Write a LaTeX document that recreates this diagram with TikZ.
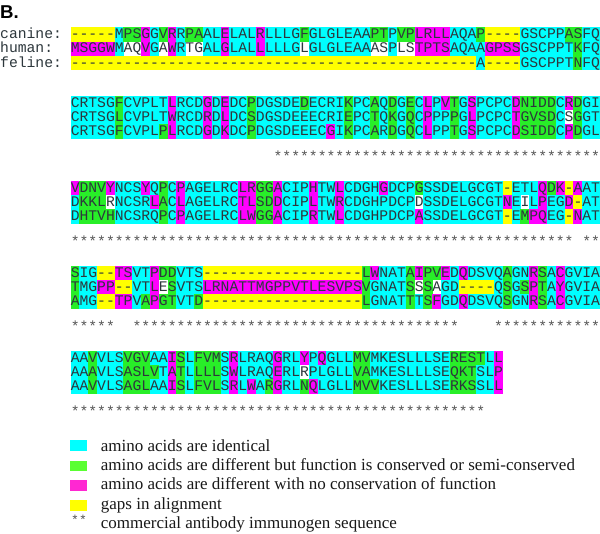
\documentclass[tikz,border=0pt]{standalone}
\usepackage{fontspec}
\setmainfont{Liberation Serif}
\setsansfont{Liberation Sans}
\setmonofont{Liberation Mono}
\definecolor{colc}{RGB}{0,255,255}
\definecolor{colg}{RGB}{40,238,40}
\definecolor{colm}{RGB}{255,0,255}
\definecolor{coly}{RGB}{255,255,0}
\definecolor{legg}{RGB}{90,255,50}
\definecolor{legm}{RGB}{255,40,210}
\definecolor{seqtxt}{RGB}{45,55,60}
\definecolor{stargray}{RGB}{85,85,85}
\def\xz{70.57}
\def\cw{8.821}
\def\rh{14.2}
\def\bl{11.3}
\newcount\cellidx
\def\cellend{CELLEND}
\def\cellrow#1#2{\cellidx=0 \def\celly{#1}\cellloop#2\cellend}
\def\cellloop#1{\ifx#1\cellend\else\cellfill#1\advance\cellidx by 1 \expandafter\cellloop\fi}
\def\cellfill#1{\if#1w\else\fill[col#1] ({\xz+\the\cellidx*\cw},{\celly}) rectangle ({\xz+\the\cellidx*\cw+\cw+0.3},{\celly+\rh+0.3});\fi}
\newcommand\repchar[2]{\ifnum#1>0 #2\expandafter\repchar\expandafter{\the\numexpr#1-1\relax}{#2}\fi}
\newcommand\seqrow[4]{\cellrow{#2}{#3}\node[seq] (#1) at (\xz,{#2+\bl}) {#4};}
\tikzset{
  seq/.style={font=\ttfamily\fontsize{14.7}{14.7}\selectfont, text=seqtxt, inner sep=0pt, anchor=base west},
  lab/.style={seq},
  starrow/.style={seq, text=stargray},
  legtext/.style={font=\fontsize{17}{17}\selectfont, inner sep=0pt, anchor=base west, text=black!90},
}
\begin{document}
\begin{tikzpicture}[x=1pt,y=-1pt]
\useasboundingbox (0,0) rectangle (600,534);
\fill[white] (0,0) rectangle (600,534);
\node[font=\sffamily\bfseries\fontsize{18.6}{18.6}\selectfont, inner sep=0pt, anchor=base west] (title) at (0,18.3) {B.};
% block 1
\node[lab] (lc) at (0,{27.5+\bl}) {canine:};
\node[lab] (lh) at (0,{41.7+\bl}) {human:};
\node[lab] (lf) at (0,{55.9+\bl}) {feline:};
\seqrow{b1c}{27.5}{yyyyy c gg m c g m c gg cc m ccc m cccc g ccccccc gg c gg mmmm ccc g yyyy ccccc gg cc}{-----MPSGGVRRPAALELALRLLLGFGLGLEAAPTPVPLRLLAQAP----GSCPPASFQ}
\seqrow{b1h}{41.7}{mmmmm c ww m c w m c ww cc m ccc m cccc w ccccccc ww c ww mmmm cccc mmmm ccccc c g cc}{MSGGWMAQVGAWRTGALGLALLLLLGLGLGLEAAASPLSTPTSAQAAGPSSGSCPPTKFQ}
\seqrow{b1f}{55.9}{yyyyyyyyyy yyyyyyyyyy yyyyyyyyyy yyyyyyyyyy yyyyyy c yyyy cccccc g cc}{\repchar{46}{-}A----GSCPPTNFQ}
% block 2
\seqrow{b2c}{96}{ccccc g ccccc m ccc m c m cc g ccccc g cccc g cc g c g c g c m c m g c m cccc m gggg c m g cc}{CRTSGFCVPLTLRCDGDEDCPDGSDEDECRIKPCAQDGECLPVTGSPCPCDNIDDCRDGI}
\seqrow{b2h}{110.2}{ccccc g ccccc m ccc m c m cc g cccccccccc g cc g c g c g c m c c g c m cccc m gggg c w g cc}{CRTSGLCVPLTWRCDRDLDCSDGSDEEECRIEPCTQKGQCPPPPGLPCPCTGVSDCSGGT}
\seqrow{b2f}{124.4}{ccccc g cccc g m ccc m c m cc g cccccccc m c g cc g c g c g c m cc g c m cccc m gggg c m g cc}{CRTSGFCVPLPLRCDGDKDCPDGSDEEECGIKPCARDGQCLPPTGSPCPCDSIDDCPDGL}
\node[starrow] (s2) at ({\xz+23*\cw},161.5) {\repchar{37}{*}};
% block 3
\seqrow{b3c}{181}{m ggg m ccc m c g c m cccccc mm gg m ccc m cc m cccc m ccc g ccccccccc y ccc m g m y m cc}{VDNVYNCSYQPCPAGELRCLRGGACIPHTWLCDGHGDCPGSSDELGCGT-ETLQDK-AAT}
\seqrow{b3h}{195.2}{c ggg w ccc c m g c m cccccc mm gg m ccc m cc m cccc c ccc w ccccccccc m c w c m c c m y cc}{DKKLRNCSRLACLAGELRCTLSDDCIPLTWRCDGHPDCPDSSDELGCGTNEILPEGD-AT}
\seqrow{b3f}{209.4}{c ggg g ccc c c g c m cccccc mm gg m ccc m cc m cccc c ccc m ccccccccc y c g m m c c y m cc}{DHTVHNCSRQPCPAGELRCLWGGACIPRTWLCDGHPDCPASSDELGCGT-EMPQEG-NAT}
\node[starrow] (s3a) at (\xz,246.5) {\repchar{57}{*}};
\node[starrow] (s3b) at ({\xz+58*\cw},246.5) {**};
% block 4
\seqrow{b4c}{266}{g cc yy mm cc m gg ccc yyyyyyyyy yyyyyyyyy g m ccc g m gg m c m ccc c g c c m g c m cccc}{SIG--TSVTPDDVTS\repchar{18}{-}LWNATAIPVEDQDSVQAGNRSACGVIA}
\seqrow{b4h}{280.2}{g cc mm yy cc m w g ccc mmmmmmmmm mmmmmmmmm g cccc g w g w cc yyyy c g c g m g c m cccc}{TMGPP--VTLESVTSLRNATTMGPPVTLESVPSVGNATSSSAGD----QSGSPTAYGVIA}
\seqrow{b4f}{294.4}{g cc yy mm c g m gg cc g yyyyyyyyy yyyyyyyyy g cccc g c g m cc m ccc c g c c m g c m cccc}{AMG--TPVAPGTVTD\repchar{18}{-}LGNATTTSFGDQDSVQSGNRSACGVIA}
\node[starrow] (s4a) at (\xz,331.5) {*****};
\node[starrow] (s4b) at ({\xz+7*\cw},331.5) {\repchar{37}{*}};
\node[starrow] (s4c) at ({\xz+48*\cw},331.5) {\repchar{12}{*}};
% block 5
\seqrow{b5c}{351}{cc g ccc ggg cc m g c ggg c m cccc m cc m c m ccc gg c cccccccc gggg c m}{AAVVLSVGVAAISLFVMSRLRAQGRLYPQGLLMVMKESLLLSERESTLL}
\seqrow{b5h}{365.2}{cc g ccc ggg g c m g c ggg c m cccc m cc w cc ccc gg c cccccccc ggg c c m}{AAAVLSASLVTATLLLLSWLRAQERLRPLGLLVAMKESLLLSEQKTSLP}
\seqrow{b5f}{379.4}{cc g ccc ggg cc m g c ggg c m c m c g m cc g m c ccc ggg cccccccc ggg c c m}{AAVVLSAGLAAISLFVLSRLWARGRLNQLGLLMVVKESLLLSERKSSLL}
\node[starrow] (s5) at (\xz,416.5) {\repchar{47}{*}};
% legend
\fill[colc] (70,440.5) rectangle (87,451.5);
\fill[legg] (70,461) rectangle (87,471.5);
\fill[legm] (70,480.5) rectangle (87,491);
\fill[coly] (70,500) rectangle (87,510.5);
\node[starrow, font=\ttfamily\fontsize{13}{13}\selectfont] (lgs) at (71,525) {**};
\node[legtext] (lg1) at (100.7,451.5) {amino acids are identical};
\node[legtext] (lg2) at (100.7,470.7) {amino acids are different but function is conserved or semi-conserved};
\node[legtext] (lg3) at (100.7,489.9) {amino acids are different with no conservation of function};
\node[legtext] (lg4) at (100.7,509.1) {gaps in alignment};
\node[legtext] (lg5) at (100.7,528.3) {commercial antibody immunogen sequence};
\end{tikzpicture}
\end{document}
